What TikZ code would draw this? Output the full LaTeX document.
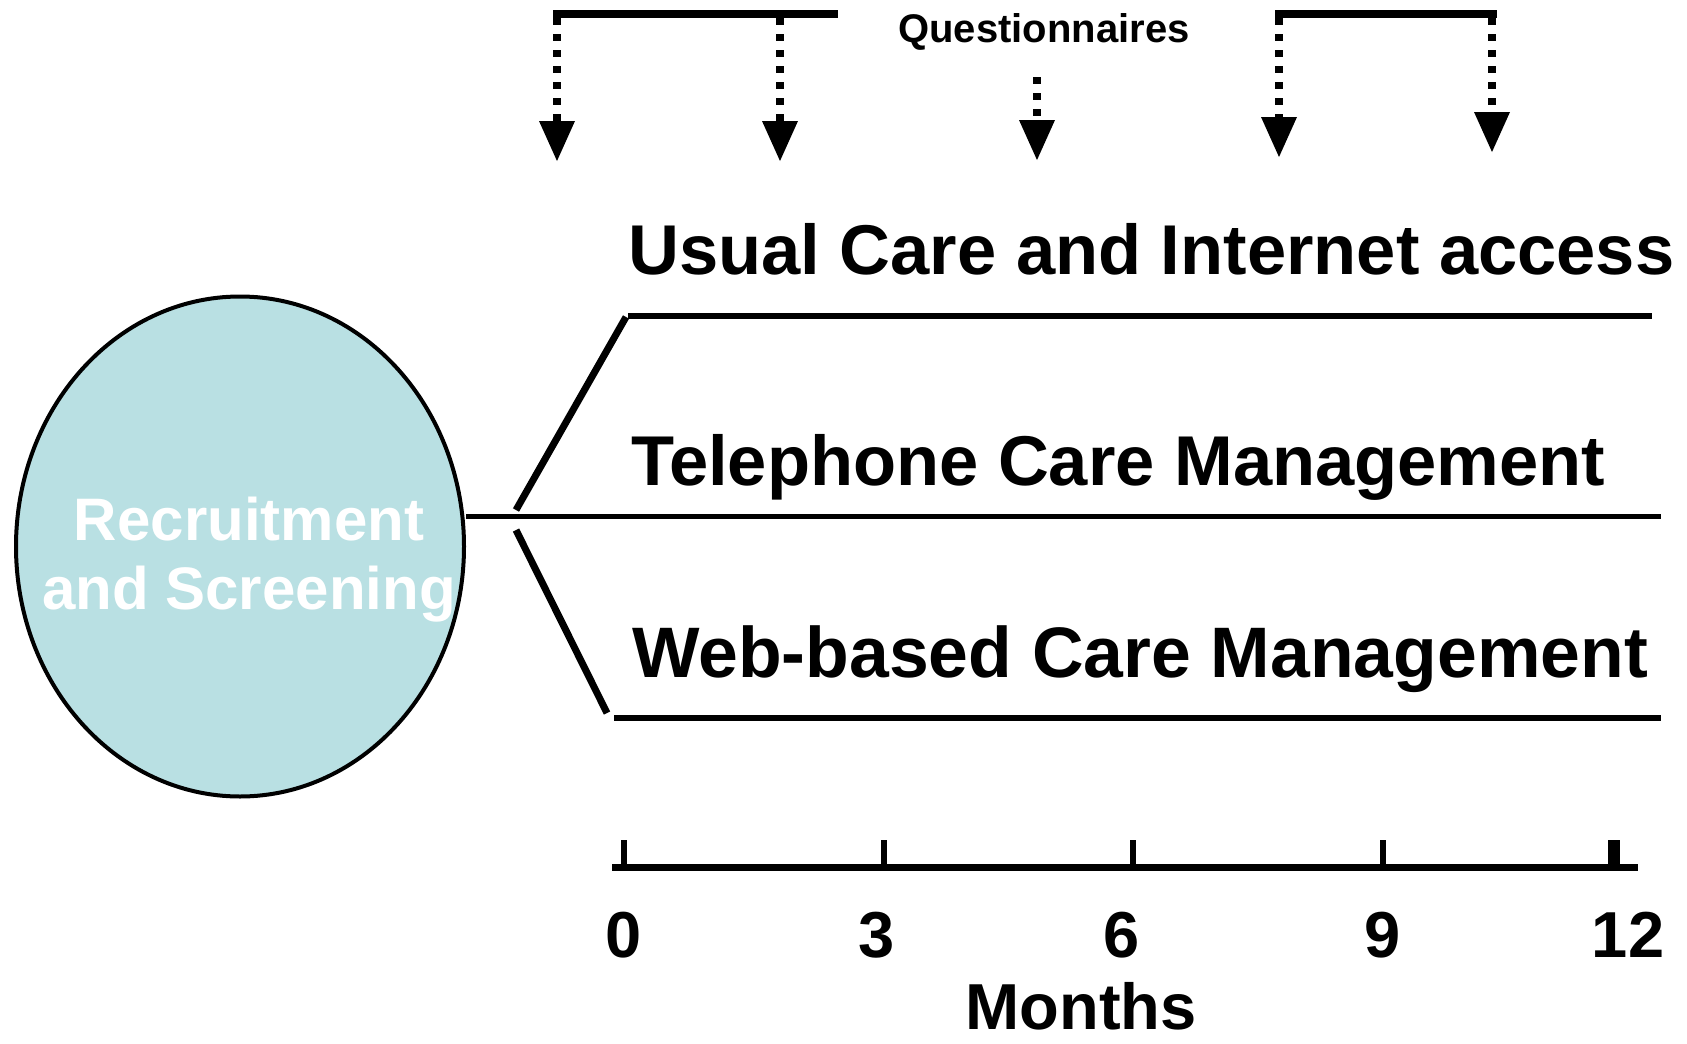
\documentclass[tikz,border=0pt]{standalone}
\usepackage{fontspec}
\setmainfont{Liberation Sans}
\usetikzlibrary{arrows.meta,shapes.geometric}
\definecolor{ovalfill}{RGB}{185,224,227}
\begin{document}
\begin{tikzpicture}[x=1pt,y=-1pt,
  bar/.style={line width=8pt},
  qarrow/.style={line width=7.5pt, dash pattern=on 7pt off 9pt,
    -{Triangle[length=40pt,width=36pt,line width=0pt]}},
  arm/.style={line width=6pt},
  diag/.style={line width=7pt},
  axisline/.style={line width=7pt},
  tick/.style={line width=6pt},
  lbl/.style={inner sep=0pt, anchor=base west, font=\fontsize{70.5}{84}\selectfont\bfseries},
  num/.style={inner sep=0pt, anchor=base, font=\fontsize{65}{78}\selectfont\bfseries}]
\useasboundingbox (0,0) rectangle (1687,1044);

% questionnaire brackets and arrows
\coordinate (b1l) at (553,14);
\coordinate (b1r) at (838,14);
\coordinate (b2l) at (1275,14);
\coordinate (b2r) at (1497,14);
\draw[bar] (b1l) -- (b1r);
\draw[bar] (b2l) -- (b2r);
\node[inner sep=0pt, anchor=base, font=\fontsize{40}{48}\selectfont\bfseries] (quest) at (1044,42) {Questionnaires};

\coordinate (a1s) at (557,18);  \coordinate (a1e) at (557,161);
\coordinate (a2s) at (780,18);  \coordinate (a2e) at (780,161);
\coordinate (a3s) at (1037,77); \coordinate (a3e) at (1037,160);
\coordinate (a4s) at (1279,18); \coordinate (a4e) at (1279,157);
\coordinate (a5s) at (1492,18); \coordinate (a5e) at (1492,152);
\draw[qarrow] (a1s) -- (a1e);
\draw[qarrow] (a2s) -- (a2e);
\draw[qarrow] (a3s) -- (a3e);
\draw[qarrow] (a4s) -- (a4e);
\draw[qarrow] (a5s) -- (a5e);

% recruitment oval
\node[ellipse, draw, line width=4pt, fill=ovalfill, minimum width=448pt, minimum height=500pt, inner sep=0pt] (rs) at (240,546.5) {};
\node[inner sep=0pt, align=center, text=white, font=\fontsize{60}{69}\selectfont\bfseries] (rstext) at (249,560) {Recruitment\\and Screening};

% arms
\coordinate (mid) at (1661,516);
\coordinate (topl) at (628,316);
\coordinate (topr) at (1652,316);
\coordinate (botl) at (614,718);
\coordinate (botr) at (1661,718);
\coordinate (du1) at (626,317);
\coordinate (du2) at (516,510);
\coordinate (dl1) at (516,530);
\coordinate (dl2) at (607,713);
\draw[line width=5pt] (rs.east |- mid) -- (mid);
\draw[arm] (topl) -- (topr);
\draw[arm] (botl) -- (botr);
\draw[diag] (du1) -- (du2);
\draw[diag] (dl1) -- (dl2);

\node[lbl] (usual) at (628,274) {Usual Care and Internet access};
\node[lbl] (tel) at (631,485) {Telephone Care Management};
\node[lbl, font=\fontsize{71.5}{84}\selectfont\bfseries] (web) at (632,677) {Web-based Care Management};

% time axis
\coordinate (ax0) at (612,867);
\coordinate (ax1) at (1638,867);
\draw[axisline] (ax0) -- (ax1);
\coordinate (t0) at (624,840);
\coordinate (t3) at (883.5,840);
\coordinate (t6) at (1133,840);
\coordinate (t9) at (1383,840);
\coordinate (t12) at (1614,840);
\draw[tick] (t0) -- (t0 |- ax0);
\draw[tick] (t3) -- (t3 |- ax0);
\draw[tick] (t6) -- (t6 |- ax0);
\draw[tick] (t9) -- (t9 |- ax0);
\draw[line width=12pt] (t12) -- (t12 |- ax0);

\node[num] (n0) at (624,957) {0};
\node[num] (n3) at (876.5,957) {3};
\node[num] (n6) at (1122,957) {6};
\node[num] (n9) at (1383,957) {9};
\node[num] (n12) at (1628,957) {12};
\node[inner sep=0pt, anchor=base, font=\fontsize{65}{78}\selectfont\bfseries] (months) at (1081,1029) {Months};
\end{tikzpicture}
\end{document}
